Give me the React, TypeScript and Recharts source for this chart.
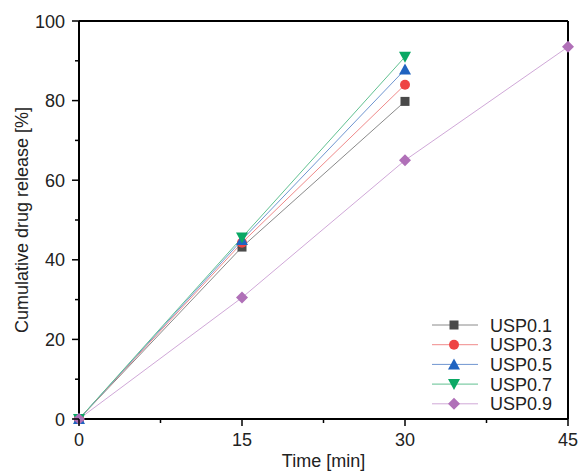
import React from 'react';
import { LineChart, Line, XAxis, YAxis, ReferenceLine } from 'recharts';

const times = [0, 15, 30, 45];
const usp01 = [0, 43.2, 79.8, null];
const usp03 = [0, 44.3, 84.0, null];
const usp05 = [0, 45.0, 87.8, null];
const usp07 = [0, 45.6, 91.0, null];
const usp09 = [0, 30.5, 65.0, 93.5];

const xTicks = [0, 7.5, 15, 22.5, 30, 37.5, 45];
const xMajor = [0, 15, 30, 45];
const yTicks = [0, 10, 20, 30, 40, 50, 60, 70, 80, 90, 100];
const yMajor = [0, 20, 40, 60, 80, 100];

const series = [
  { key: 'USP0.1', values: usp01, color: '#4a4a4a', line: '#8a8a8a', shape: 'square' },
  { key: 'USP0.3', values: usp03, color: '#ee4444', line: '#f08a8a', shape: 'circle' },
  { key: 'USP0.5', values: usp05, color: '#1f63c0', line: '#6f95d0', shape: 'triUp' },
  { key: 'USP0.7', values: usp07, color: '#0aa864', line: '#60c090', shape: 'triDown' },
  { key: 'USP0.9', values: usp09, color: '#b070b8', line: '#d0a8d8', shape: 'diamond' },
];

const data = times.map((t, i) => {
  const row: any = { t };
  series.forEach((s) => {
    if (s.values[i] !== null) row[s.key] = s.values[i];
  });
  return row;
});

const FONT = 'Arial, "Liberation Sans", sans-serif';
const TEXT = '#222';

function Marker({ cx, cy, shape, color }: any) {
  if (cx == null || cy == null) return null;
  switch (shape) {
    case 'square':
      return <rect x={cx - 4.5} y={cy - 4.5} width={9} height={9} fill={color} />;
    case 'circle':
      return <circle cx={cx} cy={cy} r={5} fill={color} />;
    case 'triUp':
      return <polygon points={`${cx},${cy - 6} ${cx - 6},${cy + 5} ${cx + 6},${cy + 5}`} fill={color} />;
    case 'triDown':
      return <polygon points={`${cx},${cy + 6} ${cx - 6},${cy - 5} ${cx + 6},${cy - 5}`} fill={color} />;
    case 'diamond':
      return <polygon points={`${cx},${cy - 6} ${cx + 6},${cy} ${cx},${cy + 6} ${cx - 6},${cy}`} fill={color} />;
    default:
      return null;
  }
}

function XTick({ x, y, payload }: any) {
  const major = xMajor.includes(payload.value);
  return (
    <g>
      <line x1={x} y1={y} x2={x} y2={y + (major ? 7 : 4)} stroke="#000" strokeWidth={1.5} />
      {major && (
        <text x={x} y={y + 27} textAnchor="middle" fontSize={18} fontFamily={FONT} fill={TEXT}>
          {payload.value}
        </text>
      )}
    </g>
  );
}

function YTick({ x, y, payload }: any) {
  const major = yMajor.includes(payload.value);
  return (
    <g>
      <line x1={x} y1={y} x2={x - (major ? 7 : 4)} y2={y} stroke="#000" strokeWidth={1.5} />
      {major && (
        <text x={x - 14} y={y + 6.5} textAnchor="end" fontSize={18} fontFamily={FONT} fill={TEXT}>
          {payload.value}
        </text>
      )}
    </g>
  );
}

function YTitle({ viewBox }: any) {
  const cy = viewBox.y + viewBox.height / 2;
  const cx = 22;
  return (
    <text
      x={cx}
      y={cy}
      transform={`rotate(-90 ${cx} ${cy})`}
      textAnchor="middle"
      dominantBaseline="central"
      fontSize={18}
      fontFamily={FONT}
      fill={TEXT}
    >
      Cumulative drug release [%]
    </text>
  );
}

function XTitle({ viewBox }: any) {
  const cx = viewBox.x + viewBox.width / 2;
  return (
    <text x={cx} y={467} textAnchor="middle" fontSize={18} fontFamily={FONT} fill={TEXT}>
      Time [min]
    </text>
  );
}

function LegendBox() {
  return (
    <svg width={150} height={100} style={{ position: 'absolute', left: 430, top: 316 }}>
      {series.map((s, i) => {
        const cy = 9 + i * 19.7;
        return (
          <g key={s.key}>
            <line x1={2} y1={cy} x2={48} y2={cy} stroke={s.line} strokeWidth={1} />
            <Marker cx={24} cy={cy} shape={s.shape} color={s.color} />
            <text x={60} y={cy + 6.5} fontSize={18} fontFamily={FONT} fill={TEXT}>
              {s.key}
            </text>
          </g>
        );
      })}
    </svg>
  );
}

export default function App() {
  return (
    <div style={{ position: 'absolute', left: 0, top: 0, width: 578, height: 474, background: '#fff' }}>
      <LineChart width={578} height={474} data={data} margin={{ top: 21, right: 10, bottom: 0, left: 0 }}>
        <XAxis
          dataKey="t"
          type="number"
          domain={[0, 45]}
          ticks={xTicks}
          interval={0}
          tickSize={0}
          tickMargin={0}
          tick={<XTick />}
          axisLine={{ stroke: '#000', strokeWidth: 2 }}
          height={55}
          label={<XTitle />}
        />
        <YAxis
          type="number"
          domain={[0, 100]}
          ticks={yTicks}
          interval={0}
          tickSize={0}
          tickMargin={0}
          tick={<YTick />}
          axisLine={{ stroke: '#000', strokeWidth: 2 }}
          width={79}
          label={<YTitle />}
        />
        <ReferenceLine y={100} stroke="#000" strokeWidth={2} />
        <ReferenceLine x={45} stroke="#000" strokeWidth={2} />
        {series.map((s) => (
          <Line
            key={s.key}
            dataKey={s.key}
            stroke={s.line}
            strokeWidth={1}
            isAnimationActive={false}
            connectNulls
            dot={(p: any) => <Marker key={`${s.key}-${p.index}`} cx={p.cx} cy={p.cy} shape={s.shape} color={s.color} />}
            activeDot={false}
          />
        ))}
      </LineChart>
      <LegendBox />
    </div>
  );
}
